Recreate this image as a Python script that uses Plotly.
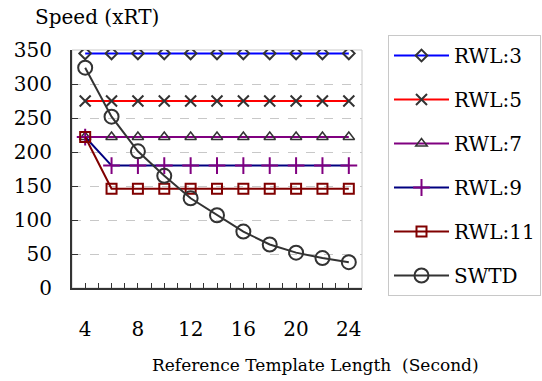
import plotly.graph_objects as go

x_vals = [4, 6, 8, 10, 12, 14, 16, 18, 20, 22, 24]
rwl3 = [345] * 11
rwl5 = [275] * 11
rwl7 = [222] * 11
rwl9 = [222, 180, 180, 180, 180, 180, 180, 180, 180, 180, 180]
rwl11 = [222, 146, 146, 146, 146, 146, 146, 146, 146, 146, 146]
swtd = [324, 252, 201, 165, 132, 107, 83, 64, 52, 44, 38]
x_tick_vals = [4, 8, 12, 16, 20, 24]
y_tick_vals = [0, 50, 100, 150, 200, 250, 300, 350]

FONT = "DejaVu Serif"
FS = 20
DARK = "#333333"

W, H = 542, 381
L, R, T, B = 72, 180, 50, 93
PW, PH = W - L - R, H - T - B


def px_to_paper(px, py):
    return (px - L) / PW, (H - B - py) / PH


series = [
    ("RWL:3", rwl3, "#0000FF", "diamond-open", DARK, 9, 2),
    ("RWL:5", rwl5, "#FF0000", "x-thin-open", DARK, 11, 2),
    ("RWL:7", rwl7, "#800080", "triangle-up-open", DARK, 10, 1.5),
    ("RWL:9", rwl9, "#000080", "cross-thin-open", "#800080", 12, 2),
    ("RWL:11", rwl11, "#800000", "square-open", "#800000", 10, 2),
    ("SWTD", swtd, DARK, "circle-open", DARK, 14, 2),
]

fig = go.Figure()
for i, (name, ys, lc, sym, mc, ms, mw) in enumerate(series):
    fig.add_trace(go.Scatter(
        x=x_vals, y=ys, name=name, mode="lines+markers",
        line=dict(color=lc, width=2),
        marker=dict(symbol=sym, size=ms, color=mc, line=dict(color=mc, width=mw)),
        legendgroup=f"g{i}",
    ))

t1x, t1y = px_to_paper(33, 17)
t2x, t2y = px_to_paper(315, 365)

fig.update_layout(
    width=W, height=H,
    margin=dict(l=L, r=R, t=T, b=B, autoexpand=False),
    paper_bgcolor="white", plot_bgcolor="white",
    font=dict(family=FONT, size=FS, color="black"),
    showlegend=True,
    legend=dict(
        x=388 / W, y=1 - 35 / H, xref="container", yref="container",
        xanchor="left", yanchor="top",
        bordercolor="#C8C8C8", borderwidth=1,
        font=dict(family=FONT, size=FS, color="black"),
        traceorder="grouped", tracegroupgap=15, itemwidth=55,
        maxheight=360,
    ),
    xaxis=dict(
        range=[3, 25], tickmode="array", tickvals=x_tick_vals,
        ticks="inside", ticklen=5, tickcolor=DARK, tickwidth=1,
        minor=dict(dtick=1, tick0=3, ticks="inside", ticklen=5, tickcolor=DARK),
        showline=True, linecolor=DARK, linewidth=2,
        showgrid=False, zeroline=False, ticklabelstandoff=22,
    ),
    yaxis=dict(
        range=[0, 350], tickmode="array", tickvals=y_tick_vals,
        ticks="inside", ticklen=6, tickcolor=DARK,
        showline=True, linecolor=DARK, linewidth=2,
        showgrid=True, gridcolor="#C8C8C8", griddash="dash", gridwidth=1,
        zeroline=False, ticklabelstandoff=14,
    ),
    shapes=[dict(type="rect", xref="paper", yref="paper", x0=0, x1=1, y0=0, y1=1,
                 line=dict(color="#C8C8C8", width=1), layer="below")],
    annotations=[
        dict(text="Speed (xRT)", xref="paper", yref="paper",
             x=t1x, y=t1y, xanchor="left", yanchor="middle",
             showarrow=False, font=dict(family=FONT, size=FS, color="black")),
        dict(text="Reference Template Length  (Second)", xref="paper", yref="paper",
             x=t2x, y=t2y, xanchor="center", yanchor="middle",
             showarrow=False, font=dict(family=FONT, size=17, color="black")),
    ],
)

fig.write_html("out.html", config={"displayModeBar": False},
               post_script="document.body.style.margin='0';")
